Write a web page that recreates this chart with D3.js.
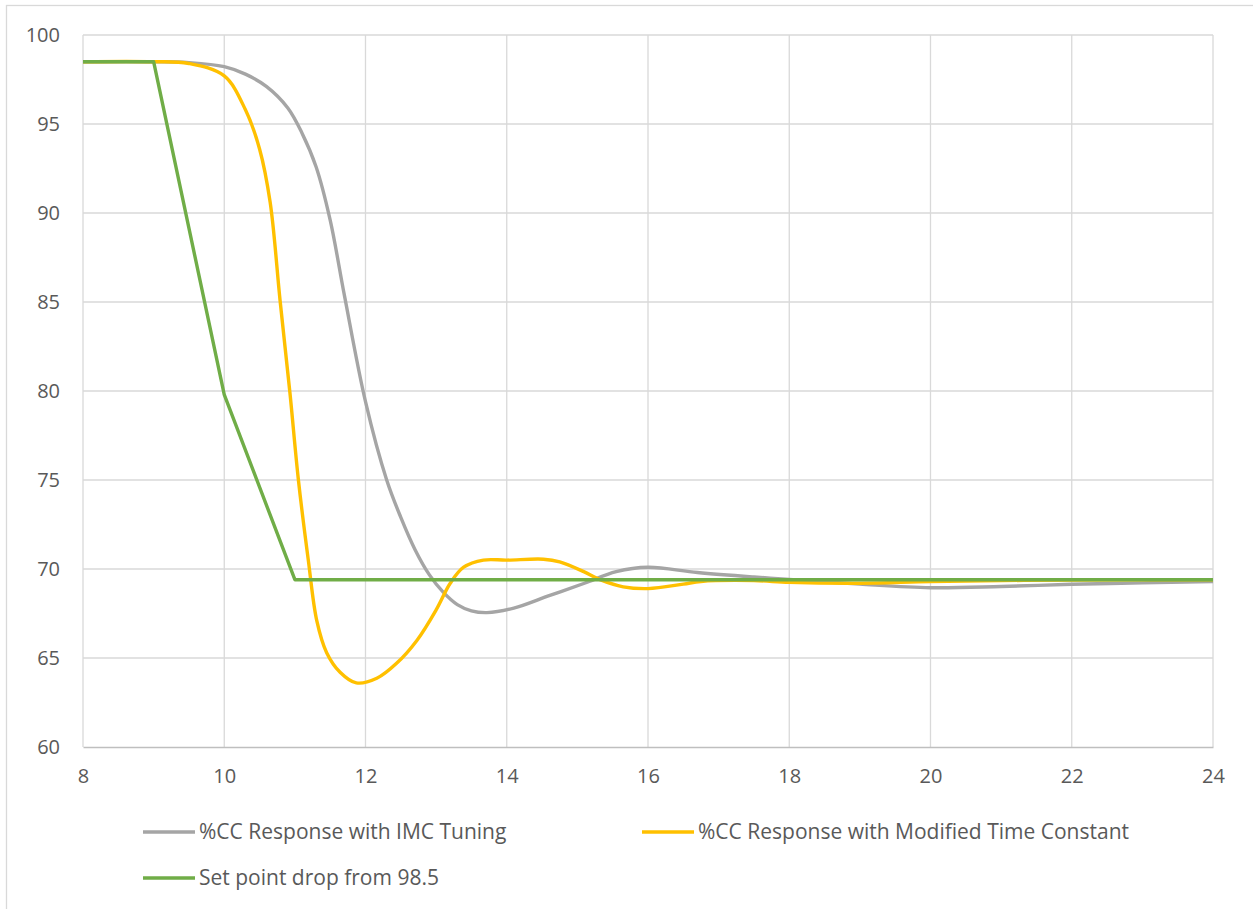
<!DOCTYPE html>
<html>
<head>
<meta charset="utf-8">
<script src="https://cdn.jsdelivr.net/npm/d3@7"></script>
<style>
  html, body { margin: 0; padding: 0; background: #fff; }
  svg { display: block; }
  text { font-family: "Open Sans", Lato, sans-serif; fill: #595959; }
</style>
</head>
<body>
<svg id="chart" width="1253" height="909"></svg>
<script>
// Time axis (x) and %CC axis (y) ticks
const xTicks = [8, 10, 12, 14, 16, 18, 20, 22, 24];
const yTicks = [60, 65, 70, 75, 80, 85, 90, 95, 100];

// %CC response with IMC tuning
const imcTime = [8, 9, 9.5, 10, 10.3, 10.6, 10.9, 11.1, 11.3, 11.5, 11.7, 12.0, 12.3, 12.5, 12.7, 12.9,
  13.1, 13.3, 13.5, 13.72, 14.1, 14.6, 15.1, 15.55, 16.0, 16.7, 17.5, 18, 19, 20, 21, 22, 23, 24];
const imcValue = [98.5, 98.5, 98.45, 98.22, 97.8, 97.1, 95.9, 94.5, 92.6, 89.6, 85.4, 79.4, 75.0, 72.9, 71.1, 69.7,
  68.7, 68.0, 67.65, 67.55, 67.8, 68.5, 69.2, 69.85, 70.1, 69.8, 69.55, 69.42, 69.15, 68.95, 69.02, 69.14, 69.22, 69.3];

// %CC response with modified time constant
const modTime = [8, 9, 9.5, 10, 10.3, 10.5, 10.65, 10.79, 10.93, 11.05, 11.19, 11.31, 11.45, 11.64, 11.87,
  12.16, 12.44, 12.73, 13.0, 13.2, 13.39, 13.67, 14.0, 14.52, 14.75, 15.09, 15.32, 15.65, 16.0, 16.5, 16.75,
  17.5, 18, 19, 20, 21, 22, 24];
const modValue = [98.5, 98.5, 98.4, 97.7, 95.8, 93.6, 90.6, 85.1, 79.9, 75.0, 70.5, 67.1, 65.3, 64.2, 63.6,
  63.86, 64.7, 66.0, 67.7, 69.2, 70.1, 70.5, 70.5, 70.55, 70.4, 69.85, 69.4, 69.0, 68.9, 69.15, 69.3,
  69.35, 69.25, 69.2, 69.3, 69.35, 69.38, 69.4];

// Set point ramp down from 98.5
const spTime = [8, 9, 10, 11, 24];
const spValue = [98.5, 98.5, 79.8, 69.4, 69.4];

const seriesNames = [
  "%CC Response with IMC Tuning",
  "%CC Response with Modified Time Constant",
  "Set point drop from 98.5"
];
const seriesColors = ["#A5A5A5", "#FFC000", "#70AD47"];

const svg = d3.select("#chart");

// outer chart frame
svg.append("rect")
  .attr("x", 6.5).attr("y", 5.5)
  .attr("width", 1300).attr("height", 1000)
  .attr("fill", "none").attr("stroke", "#d9d9d9").attr("stroke-width", 1.3);

const plot = { left: 83, top: 35, right: 1213, bottom: 747 };
const x = d3.scaleLinear().domain([8, 24]).range([plot.left, plot.right]);
const y = d3.scaleLinear().domain([60, 100]).range([plot.bottom, plot.top]);

// gridlines
const grid = svg.append("g");
grid.selectAll("line.h").data(yTicks.filter(d => d !== 60)).join("line")
  .attr("x1", plot.left).attr("x2", plot.right)
  .attr("y1", d => y(d)).attr("y2", d => y(d))
  .attr("stroke", "#d9d9d9").attr("stroke-width", 1.3);
grid.selectAll("line.v").data(xTicks).join("line")
  .attr("x1", d => x(d)).attr("x2", d => x(d))
  .attr("y1", plot.top).attr("y2", plot.bottom)
  .attr("stroke", "#d9d9d9").attr("stroke-width", 1.3);

// axes
const yAxis = svg.append("g")
  .attr("transform", `translate(${plot.left},0)`)
  .call(d3.axisLeft(y).tickValues(yTicks).tickSize(0).tickPadding(23));
yAxis.select(".domain").remove();
yAxis.selectAll("text").style("font-size", "20px").attr("fill", "#595959");

const xAxis = svg.append("g")
  .attr("transform", `translate(0,${plot.bottom})`)
  .call(d3.axisBottom(x).tickValues(xTicks).tickSize(0).tickPadding(22));
xAxis.select(".domain").attr("stroke", "#bfbfbf").attr("stroke-width", 1.5);
xAxis.selectAll("text").style("font-size", "20px").attr("fill", "#595959");

// series lines
const series = [
  { t: imcTime, v: imcValue, curve: d3.curveCatmullRom.alpha(0.5) },
  { t: modTime, v: modValue, curve: d3.curveCatmullRom.alpha(0.5) },
  { t: spTime, v: spValue, curve: d3.curveLinear }
];
series.forEach((s, i) => {
  const pts = s.t.map((t, k) => [t, s.v[k]]);
  svg.append("path")
    .datum(pts)
    .attr("fill", "none")
    .attr("stroke", seriesColors[i])
    .attr("stroke-width", 3.4)
    .attr("stroke-linejoin", "round")
    .attr("d", d3.line().x(d => x(d[0])).y(d => y(d[1])).curve(s.curve));
});

// legend
const legendPos = [[143, 832], [642, 832], [143, 878]];
const legend = svg.append("g");
seriesNames.forEach((name, i) => {
  const [lx, ly] = legendPos[i];
  legend.append("line")
    .attr("x1", lx).attr("x2", lx + 52)
    .attr("y1", ly).attr("y2", ly)
    .attr("stroke", seriesColors[i]).attr("stroke-width", 3.4);
  legend.append("text")
    .attr("x", lx + 56).attr("y", ly)
    .attr("dy", "0.35em")
    .style("font-size", "21px")
    .text(name);
});
</script>
</body>
</html>
